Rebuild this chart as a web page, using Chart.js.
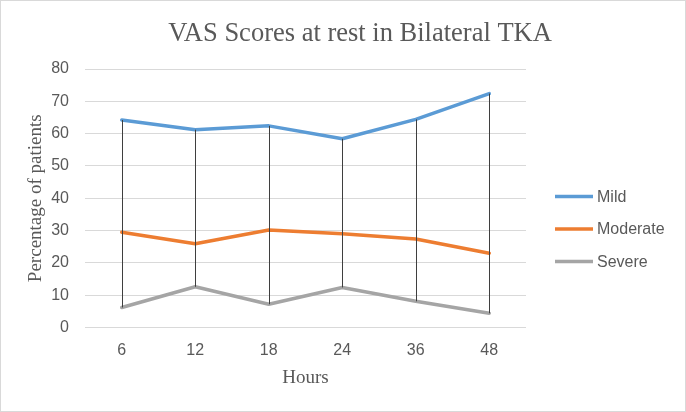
<!DOCTYPE html>
<html>
<head>
<meta charset="utf-8">
<script src="https://cdn.jsdelivr.net/npm/chart.js@4"></script>
<style>
  html, body { margin: 0; padding: 0; background: #ffffff; }
  #wrap { width: 686px; height: 412px; position: relative; }
</style>
</head>
<body>
<div id="wrap"><canvas id="c" width="686" height="412"></canvas></div>
<script>
const chartTitle = "VAS Scores at rest in Bilateral TKA";
const xTitle = "Hours";
const yTitle = "Percentage of patients";
const hours = ["6", "12", "18", "24", "36", "48"];
const seriesNames = ["Mild", "Moderate", "Severe"];
const seriesColors = ["#5b9bd5", "#ed7d31", "#a5a5a5"];
const mild = [64.2, 61.2, 62.4, 58.4, 64.4, 72.4];
const moderate = [29.5, 25.9, 30.2, 29.0, 27.4, 23.0];
const severe = [6.2, 12.6, 7.2, 12.4, 8.1, 4.4];
const yTicks = [0, 10, 20, 30, 40, 50, 60, 70, 80];

const TEXT = "#595959";
const SANS = "'Liberation Sans', Arial, sans-serif";
const SERIF = "'Liberation Serif', 'Times New Roman', serif";

const frame = {
  id: "frame",
  beforeDraw(chart) {
    const ctx = chart.ctx;
    ctx.save();
    ctx.fillStyle = "#ffffff";
    ctx.fillRect(0, 0, chart.width, chart.height);
    ctx.restore();
  },
  afterDraw(chart) {
    const ctx = chart.ctx;
    ctx.save();
    ctx.strokeStyle = "#d9d9d9";
    ctx.lineWidth = 1;
    ctx.strokeRect(0.5, 0.5, chart.width - 1, chart.height - 1);
    // title
    ctx.fillStyle = TEXT;
    ctx.font = "26.5px " + SERIF;
    ctx.textAlign = "center";
    ctx.textBaseline = "middle";
    ctx.fillText(chartTitle, 360, 34);
    // legend
    ctx.font = "16px " + SANS;
    ctx.textAlign = "left";
    chart.data.datasets.forEach((ds, i) => {
      const y = 196.5 + i * 32.5;
      ctx.strokeStyle = ds.borderColor;
      ctx.lineWidth = 3.5;
      ctx.beginPath();
      ctx.moveTo(555, y);
      ctx.lineTo(593, y);
      ctx.stroke();
      ctx.fillStyle = TEXT;
      ctx.fillText(ds.label, 597, y + 1);
    });
    ctx.restore();
  }
};

const hiLo = {
  id: "hiLo",
  afterDatasetsDraw(chart) {
    const ctx = chart.ctx;
    const metas = chart.data.datasets.map((d, i) => chart.getDatasetMeta(i));
    ctx.save();
    ctx.strokeStyle = "#3f3f3f";
    ctx.lineWidth = 1;
    for (let j = 0; j < hours.length; j++) {
      const ys = metas.map(m => m.data[j].y);
      const x = Math.round(metas[0].data[j].x) + 0.5;
      ctx.beginPath();
      ctx.moveTo(x, Math.min(...ys));
      ctx.lineTo(x, Math.max(...ys));
      ctx.stroke();
    }
    ctx.restore();
  }
};

const data = {
  labels: hours,
  datasets: [mild, moderate, severe].map((vals, i) => ({
    label: seriesNames[i],
    data: vals,
    borderColor: seriesColors[i],
    backgroundColor: seriesColors[i],
    borderWidth: 3.5,
    pointRadius: 0,
    pointHoverRadius: 0,
    tension: 0,
    borderCapStyle: "round",
    borderJoinStyle: "round"
  }))
};

new Chart(document.getElementById("c"), {
  type: "line",
  data,
  plugins: [frame, hiLo],
  options: {
    responsive: false,
    animation: false,
    devicePixelRatio: 1,
    layout: { padding: { top: 69, right: 160, bottom: 0, left: 0 } },
    plugins: {
      legend: { display: false },
      title: { display: false },
      tooltip: { enabled: false }
    },
    scales: {
      x: {
        offset: true,
        grid: { display: false, drawTicks: false, offset: true },
        border: { display: false },
        ticks: { color: TEXT, font: { family: SANS, size: 16 }, padding: 13 },
        title: { display: true, text: xTitle, color: TEXT, font: { family: SERIF, size: 19 }, padding: { top: 0, bottom: 23 } },
        afterFit(s) { s.height = 84.5; }
      },
      y: {
        min: 0,
        max: 80,
        afterBuildTicks(s) { s.ticks = yTicks.map(v => ({ value: v })); },
        grid: { color: "#d9d9d9", lineWidth: 1, drawTicks: false },
        border: { display: false },
        ticks: { color: TEXT, font: { family: SANS, size: 16 }, padding: 16 },
        title: { display: true, text: yTitle, color: TEXT, font: { family: SERIF, size: 19 }, padding: { top: 25, bottom: 0 } },
        afterFit(s) { s.width = 85; }
      }
    }
  }
});
</script>
</body>
</html>
